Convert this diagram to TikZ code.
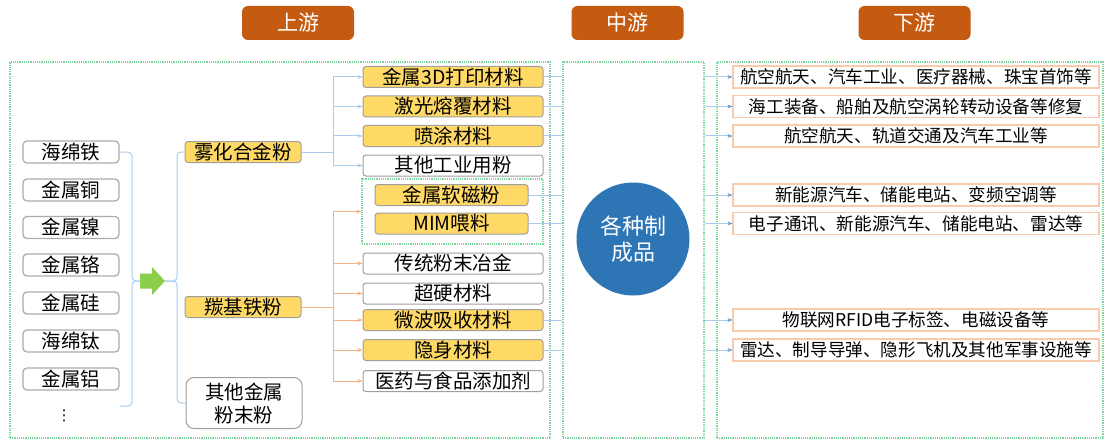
\documentclass[tikz,border=0pt]{standalone}
\usepackage{fontspec}
\setmainfont{Noto Sans CJK SC}
\newfontfamily\dotsfont{DejaVu Sans}
\usetikzlibrary{arrows.meta, positioning}
\definecolor{hdrorange}{RGB}{197,90,17}
\definecolor{powderyellow}{RGB}{255,217,102}
\definecolor{framegreen}{RGB}{125,214,160}
\definecolor{linkblue}{RGB}{170,204,236}
\definecolor{tipblue}{RGB}{91,155,213}
\definecolor{linkorange}{RGB}{244,177,131}
\definecolor{circleblue}{RGB}{46,117,182}
\definecolor{peach}{RGB}{248,203,173}
\definecolor{arrowgreen}{RGB}{140,205,75}

\begin{document}
\begin{tikzpicture}[x=1pt, y=-1pt,
  hdr/.style={fill=hdrorange, rounded corners=6pt, text=white, minimum width=112pt, minimum height=34pt, inner sep=0pt, font=\fontsize{21}{24}\selectfont},
  raw/.style={draw=gray!65, fill=white, line width=1.3pt, rounded corners=4pt, minimum width=96pt, minimum height=22pt, inner sep=0pt, font=\fontsize{19.5}{22}\selectfont},
  powder/.style={draw=gray!75, fill=powderyellow, line width=1pt, rounded corners=3pt, minimum height=21pt, inner sep=0pt, font=\fontsize{19.5}{23}\selectfont},
  plainbox/.style={powder, fill=white},
  usebox/.style={draw=peach, line width=1.2pt, minimum width=366pt, minimum height=22pt, inner sep=0pt, font=\fontsize{17.6}{21}\selectfont},
  frame/.style={draw=framegreen, densely dotted, line width=1.2pt, inner sep=0pt},
  bline/.style={draw=linkblue, line width=1pt},
  oline/.style={draw=linkorange, line width=1pt},
  tip/.style={-{Stealth[length=5pt,width=4pt]}},
  bluetip/.style={-{Stealth[length=5pt,width=4pt,color=tipblue]}}
]
\useasboundingbox (0,0) rectangle (1105,441);

% stage headers
\node[hdr] (up) at (298,23) {上游};
\node[hdr] (mid) at (627.5,23) {中游};
\node[hdr] (down) at (914.5,23) {下游};

% dotted frames
\node[frame, minimum width=540pt, minimum height=376pt] (upframe) at (280,250) {};
\node[frame, minimum width=141pt, minimum height=376pt] (midframe) at (633.5,250) {};
\node[frame, minimum width=386pt, minimum height=376pt] (downframe) at (910,250) {};
\node[frame, minimum width=181pt, minimum height=65pt] (mframe) at (452.5,211.5) {};

% raw materials
\node[raw] (hmt) at (71,152) {海绵铁};
\node[raw] (cu) at (71,190) {金属铜};
\node[raw] (ni) at (71,227.5) {金属镍};
\node[raw] (cr) at (71,265) {金属铬};
\node[raw] (si) at (71,303) {金属硅};
\node[raw] (ti) at (71,341) {海绵钛};
\node[raw] (al) at (71,379) {金属铝};
\node[font=\dotsfont\fontsize{15}{18}\selectfont] (dots) at (64,416) {⋮};
\coordinate (lowend) at (120,406);

% green arrow
\coordinate (gowest) at (140,281);
\coordinate (goeast) at (165,281);
\fill[arrowgreen] (140,273.5) -- (152,273.5) -- (152,267) -- (goeast) -- (152,295) -- (152,288.5) -- (140,288.5) -- cycle;

% powders
\node[powder, minimum width=116pt] (wh) at (243,152) {雾化合金粉};
\node[powder, minimum width=116pt] (tj) at (243,307) {羰基铁粉};
\node[plainbox, minimum width=116pt, minimum height=51pt, rounded corners=8pt, align=center] (qt) at (244,403) {其他金属\\粉末粉};

% applications of powders
\node[powder, minimum width=180pt] (p1) at (453,77) {金属3D打印材料};
\node[powder, minimum width=180pt] (p2) at (453,106.5) {激光熔覆材料};
\node[powder, minimum width=180pt] (p3) at (453,136) {喷涂材料};
\node[plainbox, minimum width=180pt] (p4) at (453,165.5) {其他工业用粉};
\node[powder, minimum width=153pt] (m1) at (451.5,195) {金属软磁粉};
\node[powder, minimum width=153pt] (m2) at (451.5,223.5) {MIM喂料};
\node[plainbox, minimum width=180pt] (c1) at (453,263.5) {传统粉末冶金};
\node[plainbox, minimum width=180pt] (c2) at (453,293.5) {超硬材料};
\node[powder, minimum width=180pt] (c3) at (453,320) {微波吸收材料};
\node[powder, minimum width=180pt] (c4) at (453,350) {隐身材料};
\node[plainbox, minimum width=180pt] (c5) at (453,381) {医药与食品添加剂};

% midstream
\node[circle, fill=circleblue, minimum size=113pt, text=white, align=center, font=\fontsize{22}{26}\selectfont] (goods) at (633,239) {各种制\\成品};

% downstream
\node[usebox] (d1) at (916,77) {航空航天、汽车工业、医疗器械、珠宝首饰等};
\node[usebox] (d2) at (916,106.5) {海工装备、船舶及航空涡轮转动设备等修复};
\node[usebox] (d3) at (916,136) {航空航天、轨道交通及汽车工业等};
\node[usebox] (d4) at (916,195) {新能源汽车、储能电站、变频空调等};
\node[usebox] (d5) at (916,223.5) {电子通讯、新能源汽车、储能电站、雷达等};
\node[usebox] (d6) at (916,320) {物联网RFID电子标签、电磁设备等};
\node[usebox] (d7) at (916,350) {雷达、制导导弹、隐形飞机及其他军事设施等};

% brackets round the arrow
\draw[bline, rounded corners=4pt] (hmt.east) -| (132,281) -- (gowest);
\draw[bline, rounded corners=4pt] (gowest) -- (132,281) |- (lowend);
\draw[bline, rounded corners=4pt] (wh.west) -| (177,281) -- (goeast);
\draw[bline, rounded corners=4pt] (goeast) -- (177,281) |- (qt.west);

% powder trees
\draw[bline, tip] (wh.east) -- (333,152) |- (p1.west);
\draw[bline, tip] (wh.east) -- (333,152) |- (p2.west);
\draw[bline, tip] (wh.east) -- (333,152) |- (p3.west);
\draw[bline, tip] (wh.east) -- (333,152) |- (p4.west);
\draw[oline, tip] (tj.east) -- (333,307) |- (mframe.west);
\draw[oline, tip] (tj.east) -- (333,307) |- (c1.west);
\draw[oline, tip] (tj.east) -- (333,307) |- (c2.west);
\draw[oline, tip] (tj.east) -- (333,307) |- (c3.west);
\draw[oline, tip] (tj.east) -- (333,307) |- (c4.west);
\draw[oline, tip] (tj.east) -- (333,307) |- (c5.west);

% into and out of the midstream frame
\draw[bline] (p1.east) -- (p1 -| midframe.west);
\draw[bline] (p2.east) -- (p2 -| midframe.west);
\draw[bline] (p3.east) -- (p3 -| midframe.west);
\draw[bline] (m1.east) -- (m1 -| midframe.west);
\draw[bline] (m2.east) -- (m2 -| midframe.west);
\draw[bline] (c3.east) -- (c3 -| midframe.west);
\draw[bline] (c4.east) -- (c4 -| midframe.west);
\draw[bline, bluetip] (d1 -| midframe.east) -- (d1.west);
\draw[bline, bluetip] (d2 -| midframe.east) -- (d2.west);
\draw[bline, bluetip] (d3 -| midframe.east) -- (d3.west);
\draw[bline, bluetip] (d4 -| midframe.east) -- (d4.west);
\draw[bline, bluetip] (d5 -| midframe.east) -- (d5.west);
\draw[bline, bluetip] (d6 -| midframe.east) -- (d6.west);
\draw[bline, bluetip] (d7 -| midframe.east) -- (d7.west);

\end{tikzpicture}
\end{document}
